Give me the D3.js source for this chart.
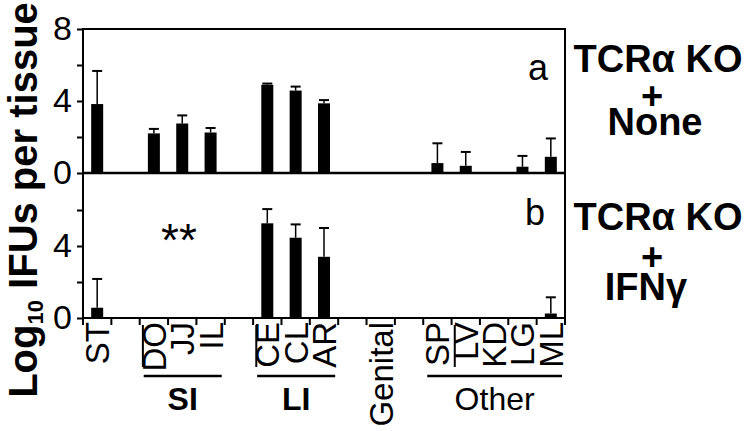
<!DOCTYPE html>
<html>
    <head>
        <script src="https://d3js.org/d3.v7.min.js"></script>
        <style>
            body {
                margin: 0;
                background: #ffffff;
            }
            svg {
                display: block;
                font-family: Arial, 'Liberation Sans', sans-serif;
            }
        </style>
    </head>
    <body>
        <script>
            // slots along the x axis, gaps included so the groups sit apart
            const categories = ['ST', 'gap1', 'DO', 'JJ', 'IL', 'gap2', 'CE', 'CL', 'AR', 'gap3', 'Genital', 'gap4', 'SP', 'LV', 'KD', 'LG', 'ML'];
            const tissues = ['ST', 'DO', 'JJ', 'IL', 'CE', 'CL', 'AR', 'SP', 'LV', 'LG', 'ML'];
            const meanNone = [3.83, 2.2, 2.75, 2.25, 4.9, 4.58, 3.87, 0.55, 0.4, 0.35, 0.9];
            const errNone = [1.84, 0.25, 0.45, 0.25, 0.07, 0.22, 0.18, 1.1, 0.77, 0.6, 1.02];
            const tissuesIfn = ['ST', 'CE', 'CL', 'AR', 'ML'];
            const meanIfn = [0.57, 5.26, 4.46, 3.4, 0.25];
            const errIfn = [1.6, 0.79, 0.74, 1.6, 0.9];
            const groups = [
                { name: 'SI', from: 'DO', to: 'IL', bold: true },
                { name: 'LI', from: 'CE', to: 'AR', bold: true },
                { name: 'Other', from: 'SP', to: 'ML', bold: false },
            ];
            const markedLabels = ['DO', 'CE', 'LV'];
            const conditionA = ['TCRα KO', '+', 'None'];
            const conditionB = ['TCRα KO', '+', 'IFNγ'];
            const yTicks = [0, 2, 4, 6, 8];
            const yLabels = [0, 4, 8];

            const width = 750;
            const height = 431;
            const svg = d3.select('body').append('svg').attr('width', width).attr('height', height);

            const x = d3.scaleBand().domain(categories).range([83, 565]).padding(0);
            const yA = d3.scaleLinear().domain([0, 8]).range([173, 29]);
            const yB = d3.scaleLinear().domain([0, 8]).range([318, 174]);
            const barW = 12;
            const cx = (c) => x(c) + x.bandwidth() / 2;

            // frame
            svg.append('rect')
                .attr('x', 83).attr('y', 29)
                .attr('width', 565 - 83).attr('height', 318 - 29)
                .attr('fill', 'none').attr('stroke', '#000').attr('stroke-width', 2);
            svg.append('line').attr('x1', 83).attr('x2', 565).attr('y1', yA(0)).attr('y2', yA(0))
                .attr('stroke', '#000').attr('stroke-width', 2.5);

            function drawAxis(scale, values) {
                const g = svg.append('g').attr('transform', 'translate(83,0)')
                    .call(d3.axisLeft(scale).tickValues(values)
                        .tickFormat((d) => (yLabels.includes(d) ? d : ''))
                        .tickSize(6).tickSizeOuter(0).tickPadding(5));
                g.select('.domain').remove();
                g.selectAll('line').attr('stroke', '#000').attr('stroke-width', 2);
                g.selectAll('text').attr('font-size', 34).attr('font-family', 'Arial, Liberation Sans').attr('fill', '#000');
            }
            drawAxis(yA, yTicks);
            drawAxis(yB, yTicks.filter((d) => d < 8));

            function drawBars(scale, names, means, errs) {
                const data = names.map((n, i) => ({ n, m: means[i], e: errs[i] }));
                const g = svg.append('g');
                g.selectAll('line.err').data(data).enter().append('line')
                    .attr('x1', (d) => cx(d.n)).attr('x2', (d) => cx(d.n))
                    .attr('y1', (d) => scale(d.m)).attr('y2', (d) => scale(d.m + d.e))
                    .attr('stroke', '#000').attr('stroke-width', 1.5);
                g.selectAll('line.cap').data(data).enter().append('line')
                    .attr('x1', (d) => cx(d.n) - 5).attr('x2', (d) => cx(d.n) + 5)
                    .attr('y1', (d) => scale(d.m + d.e)).attr('y2', (d) => scale(d.m + d.e))
                    .attr('stroke', '#000').attr('stroke-width', 2);
                g.selectAll('rect').data(data).enter().append('rect')
                    .attr('x', (d) => cx(d.n) - barW / 2)
                    .attr('width', barW)
                    .attr('y', (d) => scale(d.m))
                    .attr('height', (d) => scale(0) - scale(d.m))
                    .attr('fill', '#000');
            }
            drawBars(yA, tissues, meanNone, errNone);
            drawBars(yB, tissuesIfn, meanIfn, errIfn);

            // ticks on the bottom axis at slot edges
            const edges = categories.map((c) => x(c)).concat([x.range()[1]]);
            svg.append('g').selectAll('line').data(edges).enter().append('line')
                .attr('x1', (d) => d).attr('x2', (d) => d)
                .attr('y1', 318).attr('y2', 325)
                .attr('stroke', '#000').attr('stroke-width', 2);

            // category labels
            svg.append('g').selectAll('text')
                .data(categories.filter((c) => !c.startsWith('gap')))
                .enter().append('text')
                .attr('transform', (d) => `translate(${cx(d) + 12},322) rotate(-90)`)
                .attr('text-anchor', 'end')
                .attr('font-size', 33)
                .text((d) => d);

            // small bars in front of some labels
            svg.append('g').selectAll('line').data(markedLabels).enter().append('line')
                .attr('x1', (d) => cx(d) - 11).attr('x2', (d) => cx(d) - 11)
                .attr('y1', 325).attr('y2', 367)
                .attr('stroke', '#000').attr('stroke-width', 2);

            // group brackets
            groups.forEach((gr) => {
                const x0 = x(gr.from) + 4;
                const x1 = x(gr.to) + x.bandwidth() - 3;
                svg.append('line').attr('x1', x0).attr('x2', x1).attr('y1', 376).attr('y2', 376)
                    .attr('stroke', '#000').attr('stroke-width', 2.5);
                svg.append('text')
                    .attr('x', (x0 + x1) / 2).attr('y', 410)
                    .attr('text-anchor', 'middle')
                    .attr('font-size', 32)
                    .attr('font-weight', gr.bold ? 'bold' : 'normal')
                    .text(gr.name);
            });

            // panel letters and significance mark
            svg.append('text').attr('x', 538).attr('y', 80).attr('text-anchor', 'middle').attr('font-size', 36).text('a');
            svg.append('text').attr('x', 535).attr('y', 225).attr('text-anchor', 'middle').attr('font-size', 36).text('b');
            svg.append('text').attr('x', 179).attr('y', 256).attr('text-anchor', 'middle').attr('font-size', 46).text('**');

            // right side condition labels, one text block per panel
            function drawCondition(lines, top, xs, dys) {
                const t = svg.append('text')
                    .attr('y', top)
                    .attr('text-anchor', 'middle')
                    .attr('font-size', 38).attr('font-weight', 'bold');
                lines.forEach((s, i) => {
                    t.append('tspan').attr('x', xs[i]).attr('dy', i === 0 ? 0 : dys[i - 1]).text(s);
                });
            }
            drawCondition(conditionA, 72, [658, 652, 655], [37, 26]);
            drawCondition(conditionB, 230, [658, 652, 646], [40, 30]);

            // y title
            const title = svg.append('text')
                .attr('transform', 'translate(37,200) rotate(-90)')
                .attr('text-anchor', 'middle')
                .attr('font-size', 40).attr('font-weight', 'bold');
            title.append('tspan').text('Log');
            title.append('tspan').attr('font-size', 22).attr('dy', 6).text('10');
            title.append('tspan').attr('dy', -6).text(' IFUs per tissue');
        </script>
    </body>
</html>
